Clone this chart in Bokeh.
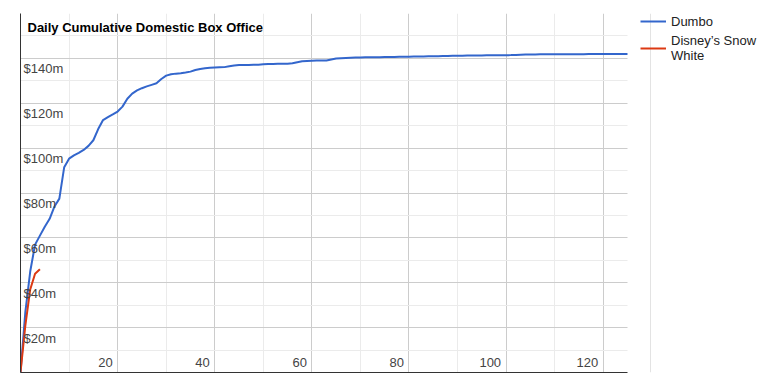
from bokeh.plotting import figure
from bokeh.models import FixedTicker, Legend, LegendItem, Span, Range1d
from bokeh.embed import file_html
from bokeh.resources import INLINE
from bokeh.core.properties import value

chart_title = "Daily Cumulative Domestic Box Office"
series_names = ["Dumbo", "Disney\u2019s Snow\nWhite"]

dumbo_days = list(range(0, 126))
dumbo_gross = [
    0, 27, 45, 57, 61, 65, 68.5, 74, 77.5, 91.5,
    95.3, 96.8, 97.9, 99.2, 101, 103.5, 108.5, 112.5, 113.8, 115,
    116.3, 118.5, 122, 124.3, 125.7, 126.7, 127.5, 128.2, 128.9, 130.8,
    132.3, 132.9, 133.2, 133.4, 133.7, 134.1, 134.8, 135.3, 135.6, 135.8,
    135.9, 136.0, 136.1, 136.5, 136.8, 137.0, 137.05, 137.1, 137.15, 137.2,
    137.35, 137.45, 137.5, 137.55, 137.6, 137.65, 137.8, 138.3, 138.7, 138.8,
    138.9, 139.0, 139.05, 139.1, 139.5, 139.9, 140.1, 140.2, 140.3, 140.35,
    140.4, 140.45, 140.5, 140.52, 140.55, 140.6, 140.63, 140.66, 140.7, 140.73,
    140.76, 140.8, 140.84, 140.88, 140.92, 140.96, 141.0, 141.05, 141.1, 141.15,
    141.2, 141.22, 141.25, 141.27, 141.3, 141.32, 141.34, 141.36, 141.38, 141.4,
    141.42, 141.45, 141.5, 141.6, 141.7, 141.75, 141.78, 141.8, 141.81, 141.82,
    141.83, 141.84, 141.85, 141.86, 141.87, 141.88, 141.89, 141.9, 141.9, 141.91,
    141.92, 141.93, 141.94, 141.95, 141.96, 141.97,
]

snow_days = [0, 1, 2, 3, 4]
snow_gross = [0, 21, 37, 44, 46]

x_end = 125
x_ticks = [20, 40, 60, 80, 100, 120]
x_labels = ["20", "40", "60", "80", "100", "120"]
x_minor = [10, 30, 50, 70, 90, 110]
y_ticks = [20, 40, 60, 80, 100, 120, 140]
y_labels = ["$20m", "$40m", "$60m", "$80m", "$100m", "$120m", "$140m"]
y_grid_major = [0, 20, 40, 60, 80, 100, 120, 140, 160]
y_minor = [10, 30, 50, 70, 90, 110, 130, 150]

FONT = "Liberation Sans"

# plot area spans 607 px for x_end days; the frame continues under the legend
frame_px = 752
plot_px = 607
view_end = x_end * frame_px / plot_px

p = figure(width=772, height=383, x_range=Range1d(0, view_end), y_range=Range1d(0, 160),
           output_backend="svg", toolbar_location=None,
           min_border_left=20, min_border_right=0, min_border_top=13, min_border_bottom=11)
p.outline_line_color = None
p.background_fill_color = "white"
p.border_fill_color = "white"

for ax in (p.xaxis[0], p.yaxis[0]):
    ax.ticker = FixedTicker(ticks=[])
    ax.major_label_text_font_size = "0px"
    ax.major_tick_line_color = None
    ax.minor_tick_line_color = None
    ax.major_tick_out = 0
    ax.major_tick_in = 0
    ax.minor_tick_out = 0
    ax.minor_tick_in = 0
    ax.major_label_standoff = 0
    ax.axis_line_color = "#333333"
    ax.axis_line_width = 1
p.xaxis[0].bounds = (0, x_end)

p.xgrid.ticker = FixedTicker(ticks=[0] + x_ticks, minor_ticks=x_minor)
p.ygrid.ticker = FixedTicker(ticks=y_grid_major, minor_ticks=y_minor)
for g in (p.xgrid[0], p.ygrid[0]):
    g.grid_line_color = "#cccccc"
    g.grid_line_width = 1
    g.minor_grid_line_color = "#ebebeb"
    g.minor_grid_line_width = 1
p.ygrid[0].cross_bounds = (0, x_end)

r1 = p.line(dumbo_days, dumbo_gross, line_color="#3366cc", line_width=2)
r2 = p.line(snow_days, snow_gross, line_color="#dc3912", line_width=2)

# axis tick labels drawn inside the plot area
p.text(x=[0] * len(y_ticks), y=y_ticks, text=y_labels, x_offset=3, y_offset=10.5,
       text_align="left", text_baseline="middle", text_font=value(FONT),
       text_font_size="13px", text_color="#444444")
p.text(x=x_ticks, y=[0] * len(x_ticks), text=x_labels, x_offset=-5, y_offset=-10.5,
       text_align="right", text_baseline="middle", text_font=value(FONT),
       text_font_size="13px", text_color="#444444")
p.text(x=[0], y=[160], text=[chart_title], x_offset=7, y_offset=14,
       text_align="left", text_baseline="middle", text_font=value(FONT),
       text_font_style="bold", text_font_size="13px", text_color="#000000")

# faint separator line next to the legend
sep = Span(location=x_end * 630 / plot_px, dimension="height",
           line_color="#e3e3e3", line_width=1)
p.add_layout(sep)

legend = Legend(items=[LegendItem(label=series_names[0], renderers=[r1]),
                       LegendItem(label=series_names[1], renderers=[r2])],
                location=(620, 308.7), orientation="vertical")
legend.border_line_color = None
legend.background_fill_alpha = 0
legend.padding = 0
legend.margin = 0
legend.spacing = 4
legend.glyph_width = 26
legend.glyph_height = 16
legend.label_height = 16
legend.label_standoff = 5
legend.label_text_font = FONT
legend.label_text_font_size = "13px"
legend.label_text_line_height = 1.3
legend.label_text_color = "#222222"
p.add_layout(legend)

open("out.html", "w").write(file_html(p, INLINE))
